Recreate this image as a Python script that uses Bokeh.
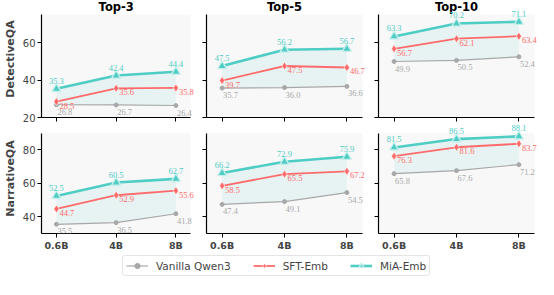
from bokeh.plotting import figure
from bokeh.layouts import column, row
from bokeh.models import (Range1d, FixedTicker, ColumnDataSource, LabelSet, Label,
                          Legend, LegendItem, BoxAnnotation)
from bokeh.embed import file_html
from bokeh.resources import INLINE

sizes = ["0.6B", "4B", "8B"]
ks = ["Top-3", "Top-5", "Top-10"]
datasets = ["DetectiveQA", "NarrativeQA"]

det_top3_vanilla = [26.8, 26.7, 26.4]
det_top3_sft = [28.5, 35.6, 35.8]
det_top3_mia = [35.3, 42.4, 44.4]
det_top5_vanilla = [35.7, 36.0, 36.6]
det_top5_sft = [39.7, 47.5, 46.7]
det_top5_mia = [47.5, 56.2, 56.7]
det_top10_vanilla = [49.9, 50.5, 52.4]
det_top10_sft = [56.7, 62.1, 63.4]
det_top10_mia = [63.3, 70.2, 71.1]

nar_top3_vanilla = [35.5, 36.5, 41.8]
nar_top3_sft = [44.7, 52.9, 55.6]
nar_top3_mia = [52.5, 60.5, 62.7]
nar_top5_vanilla = [47.4, 49.1, 54.5]
nar_top5_sft = [58.5, 65.5, 67.2]
nar_top5_mia = [66.2, 72.9, 75.9]
nar_top10_vanilla = [65.8, 67.6, 71.2]
nar_top10_sft = [76.3, 81.6, 83.7]
nar_top10_mia = [81.5, 86.5, 88.1]

series_names = ["Vanilla Qwen3", "SFT-Emb", "MiA-Emb"]
row_ylims = [(20, 75), (30, 90)]
row_yticks = [[20, 40, 60], [40, 60, 80]]

table = [
    [(det_top3_vanilla, det_top3_sft, det_top3_mia),
     (det_top5_vanilla, det_top5_sft, det_top5_mia),
     (det_top10_vanilla, det_top10_sft, det_top10_mia)],
    [(nar_top3_vanilla, nar_top3_sft, nar_top3_mia),
     (nar_top5_vanilla, nar_top5_sft, nar_top5_mia),
     (nar_top10_vanilla, nar_top10_sft, nar_top10_mia)],
]

FONT = "DejaVu Sans"
GRAY = "#a8a8a8"
RED = "#ff6b6b"
TEAL = "#4ecdc4"
xs = list(range(len(sizes)))
XLO, XHI = -0.25, len(sizes) - 0.75

PANEL_W = 156
PANEL_H = 103
EXTRA_TOP = [14, 10]      # px of frame above the panel box (title / gap room)
BOTTOM = [6, 17]


def add_labels(p, vals, color, align, baseline, xo, yo):
    src = ColumnDataSource(dict(x=xs, y=vals, t=[f"{v:.1f}" for v in vals]))
    p.add_layout(LabelSet(x="x", y="y", text="t", source=src, text_color=color,
                          text_font=FONT, text_font_size="8.5px", text_align=align,
                          text_baseline=baseline, x_offset=xo, y_offset=yo))


def make_panel(ri, ci):
    van, sft, mia = table[ri][ci]
    left = 34 if ci == 0 else 8
    right_px = 8 if ci < 2 else 4
    ymin, ymax = row_ylims[ri]
    yend = ymax + EXTRA_TOP[ri] / PANEL_H * (ymax - ymin)
    xend = XHI + right_px / PANEL_W * (XHI - XLO)
    w = left + PANEL_W + right_px
    h = EXTRA_TOP[ri] + PANEL_H + BOTTOM[ri]
    p = figure(width=w, height=h, x_range=Range1d(XLO, xend),
               y_range=Range1d(ymin, yend), toolbar_location=None,
               output_backend="svg", min_border_left=left, min_border_right=0,
               min_border_top=0, min_border_bottom=BOTTOM[ri])
    p.background_fill_color = "white"
    p.border_fill_color = "white"
    p.outline_line_color = None
    p.add_layout(BoxAnnotation(left=XLO, right=XHI, bottom=ymin, top=ymax,
                               fill_color="#f8f8f8", fill_alpha=1, line_color=None,
                               level="underlay"))
    if ri == 0:
        p.add_layout(Label(x=(XLO + XHI) / 2, y=h - BOTTOM[ri] - 6, y_units="screen",
                           text=ks[ci], text_font=FONT, text_font_size="11.5px",
                           text_font_style="bold", text_align="center",
                           text_baseline="middle", text_color="black"))
    p.xaxis.ticker = FixedTicker(ticks=xs)
    p.xaxis.major_label_overrides = {i: s for i, s in enumerate(sizes)}
    p.xaxis.bounds = (XLO, XHI)
    p.yaxis.ticker = FixedTicker(ticks=row_yticks[ri])
    p.yaxis.bounds = (ymin, ymax)
    for ax in (p.xaxis, p.yaxis):
        ax.axis_line_color = "black"
        ax.axis_line_width = 1.2
        ax.major_tick_line_color = "black"
        ax.major_tick_line_width = 1
        ax.major_tick_out = 4
        ax.major_tick_in = 0
        ax.minor_tick_line_color = None
        ax.major_label_text_font = FONT
        ax.major_label_standoff = 2
    p.yaxis.major_label_text_font_size = "10px"
    if ci > 0:
        p.yaxis.major_label_text_color = None
    p.xaxis.major_label_text_font_size = "9.5px"
    p.xaxis.major_label_text_font_style = "bold"
    if ri == 0:
        p.xaxis.major_label_text_color = None
    if ci == 0:
        p.yaxis.axis_label = datasets[ri]
        p.yaxis.axis_label_text_font = FONT
        p.yaxis.axis_label_text_font_size = "11px"
        p.yaxis.axis_label_text_font_style = "bold"
        p.yaxis.axis_label_standoff = 3
    p.xgrid.visible = False
    yg = p.ygrid[0]
    yg.grid_line_color = "#d8d8d8"
    yg.grid_line_dash = "2 2"
    yg.grid_line_width = 0.8
    if "cross_bounds" in yg.properties():
        yg.cross_bounds = (XLO, XHI)

    p.varea(x=xs, y1=van, y2=mia, fill_color=TEAL, fill_alpha=0.1)
    p.line(xs, van, line_color=GRAY, line_width=1.2)
    p.scatter(xs, van, marker="circle", size=4, fill_color=GRAY, line_color=GRAY)
    p.line(xs, sft, line_color=RED, line_width=1.8)
    p.scatter(xs, sft, marker="diamond", size=8, fill_color=RED, line_color="white", line_width=0.6)
    p.line(xs, mia, line_color=TEAL, line_width=2.6)
    p.scatter(xs, mia, marker="triangle", size=9, fill_color=TEAL, line_color="#c9efec", line_width=1.4)

    add_labels(p, mia, TEAL, "center", "bottom", 0, 5)
    add_labels(p, sft, RED, "left", "top", 3, -1)
    add_labels(p, van, GRAY, "left", "top", 1, -4)
    return p


rows = [row(*[make_panel(ri, ci) for ci in range(3)], spacing=0) for ri in range(2)]

leg = figure(width=538, height=25, x_range=Range1d(0, 1), y_range=Range1d(0, 1),
             toolbar_location=None, output_backend="svg", min_border=0,
             x_axis_location=None, y_axis_location=None)
leg.outline_line_color = None
leg.grid.visible = False
leg.background_fill_color = "white"
r1 = leg.line(xs, det_top3_vanilla, line_color=GRAY, line_width=1.2)
s1 = leg.scatter(xs, det_top3_vanilla, marker="circle", size=4, fill_color=GRAY, line_color=GRAY)
r2 = leg.line(xs, det_top3_sft, line_color=RED, line_width=1.8)
s2 = leg.scatter(xs, det_top3_sft, marker="diamond", size=8, fill_color=RED, line_color="white", line_width=0.6)
r3 = leg.line(xs, det_top3_mia, line_color=TEAL, line_width=2.6)
s3 = leg.scatter(xs, det_top3_mia, marker="triangle", size=9, fill_color=TEAL, line_color="#c9efec", line_width=1.4)
legend = Legend(items=[LegendItem(label=series_names[0], renderers=[r1, s1]),
                       LegendItem(label=series_names[1], renderers=[r2, s2]),
                       LegendItem(label=series_names[2], renderers=[r3, s3])],
                orientation="horizontal", location=(122, 2),
                label_text_font=FONT, label_text_font_size="10.5px",
                glyph_width=22, glyph_height=13, label_height=13, label_standoff=8,
                spacing=22, padding=3, margin=0,
                border_line_color="#cccccc", border_line_width=1,
                background_fill_color="white", background_fill_alpha=1)
if "border_radius" in legend.properties():
    legend.border_radius = 3
leg.add_layout(legend, "center")

layout = column(rows[0], rows[1], leg, spacing=0)

open("out.html", "w").write(file_html(layout, INLINE))
